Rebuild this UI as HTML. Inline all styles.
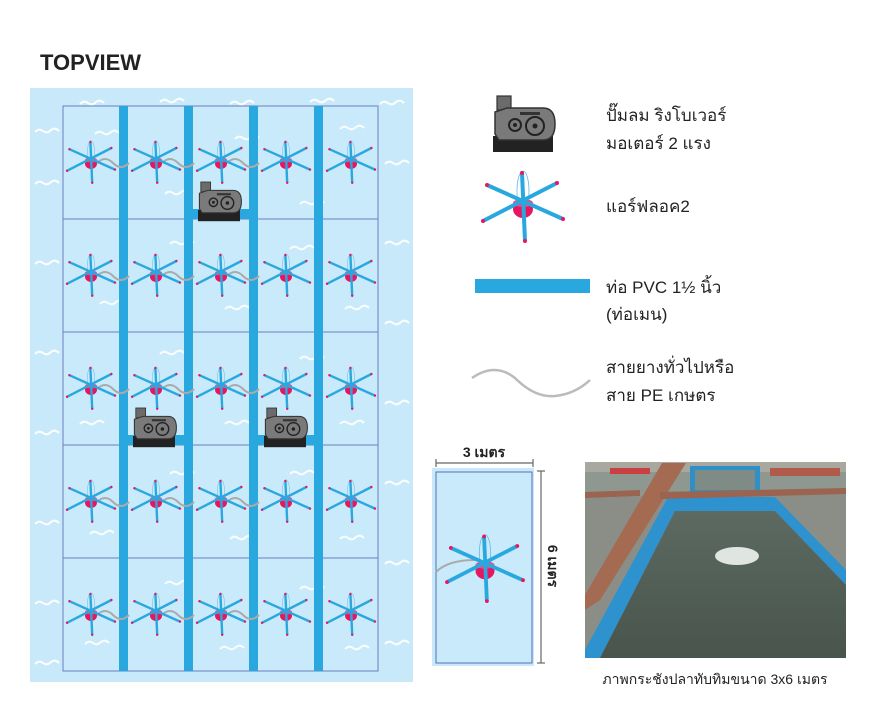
<!DOCTYPE html>
<html><head><meta charset="utf-8"><style>
body{margin:0;background:#fff;}
svg{display:block}
text{font-family:"Liberation Sans","Noto Sans CJK SC","WenQuanYi Zen Hei",sans-serif;}
</style></head><body>
<svg width="892" height="714" viewBox="0 0 892 714" xmlns="http://www.w3.org/2000/svg">
<defs>
<g id="aer">
 <ellipse cx="0" cy="-12" rx="6" ry="20" fill="none" stroke="#5bb8e6" stroke-width="0.8"/>
 <ellipse cx="0" cy="6" rx="10" ry="9" fill="#e8165f"/>
 <ellipse cx="0" cy="0" rx="10" ry="4" fill="#f04a80"/>
 <g stroke="#29a8e0" stroke-width="4" stroke-linecap="butt">
  <line x1="-1" y1="-30" x2="2" y2="38"/>
  <line x1="-36" y1="-18" x2="40" y2="16"/>
  <line x1="34" y1="-20" x2="-40" y2="18"/>
 </g>
 <g fill="#e8165f"><circle cx="-1" cy="-30" r="2"/><circle cx="2" cy="38" r="2"/><circle cx="-36" cy="-18" r="2"/><circle cx="40" cy="16" r="2"/><circle cx="34" cy="-20" r="2"/><circle cx="-40" cy="18" r="2"/></g>
</g>
<g id="mot">
 <rect x="0" y="40" width="60" height="16" fill="#222"/>
 <rect x="4" y="0" width="14" height="14" fill="#6b6b6b" stroke="#333" stroke-width="1.2"/>
 <path d="M2 16 L14 12 L50 12 Q62 12 62 28 Q62 44 50 44 L6 44 L2 38 Z" fill="#7a7a7a" stroke="#333" stroke-width="1.5"/>
 <circle cx="22" cy="29" r="6" fill="none" stroke="#222" stroke-width="2"/><circle cx="22" cy="29" r="2" fill="#222"/>
 <circle cx="42" cy="30" r="9" fill="none" stroke="#222" stroke-width="2"/><circle cx="42" cy="30" r="2.5" fill="#222"/>
 <rect x="27" y="16" width="20" height="3" fill="#333"/>
</g>
<path id="wv" d="M0 4 Q4 0 8 3 Q12 6 16 2 Q20 -1 24 3" fill="none" stroke="#fff" stroke-width="2"/>
<path id="hose" d="M0 0 Q8 -8 16 0 Q24 8 32 0" fill="none" stroke="#aaa" stroke-width="2"/>
</defs>

<text x="40" y="70" font-size="22" font-weight="600" fill="#222">TOPVIEW</text>

<rect x="30" y="88" width="383" height="594" fill="#c7e9f9"/>
<g opacity="0.95">
<use href="#wv" x="80" y="100"/><use href="#wv" x="160" y="98"/><use href="#wv" x="230" y="100"/><use href="#wv" x="310" y="98"/><use href="#wv" x="380" y="100"/>
<use href="#wv" x="35" y="128"/><use href="#wv" x="385" y="160"/><use href="#wv" x="35" y="180"/><use href="#wv" x="385" y="240"/><use href="#wv" x="35" y="260"/><use href="#wv" x="385" y="320"/><use href="#wv" x="35" y="350"/><use href="#wv" x="385" y="400"/><use href="#wv" x="35" y="430"/><use href="#wv" x="385" y="480"/><use href="#wv" x="35" y="520"/><use href="#wv" x="385" y="560"/><use href="#wv" x="35" y="600"/><use href="#wv" x="385" y="640"/><use href="#wv" x="35" y="660"/>
</g>
<g fill="#c9eafa" stroke="#6b7fc0" stroke-width="1">
<rect x="63" y="106" width="315" height="565"/>
</g>
<g stroke="#6b7fc0" stroke-width="1">
<line x1="63" y1="219" x2="378" y2="219"/><line x1="63" y1="332" x2="378" y2="332"/><line x1="63" y1="445" x2="378" y2="445"/><line x1="63" y1="558" x2="378" y2="558"/>
</g>
<g opacity="0.9">
<use href="#wv" x="95" y="130"/><use href="#wv" x="165" y="190"/><use href="#wv" x="235" y="135"/><use href="#wv" x="300" y="200"/><use href="#wv" x="340" y="125"/>
<use href="#wv" x="100" y="300"/><use href="#wv" x="170" y="240"/><use href="#wv" x="225" y="305"/><use href="#wv" x="290" y="245"/><use href="#wv" x="345" y="305"/>
<use href="#wv" x="80" y="420"/><use href="#wv" x="160" y="350"/><use href="#wv" x="225" y="420"/><use href="#wv" x="300" y="355"/><use href="#wv" x="340" y="420"/>
<use href="#wv" x="90" y="530"/><use href="#wv" x="170" y="470"/><use href="#wv" x="230" y="535"/><use href="#wv" x="290" y="470"/><use href="#wv" x="340" y="535"/>
<use href="#wv" x="85" y="640"/><use href="#wv" x="165" y="580"/><use href="#wv" x="220" y="645"/><use href="#wv" x="300" y="585"/><use href="#wv" x="345" y="645"/>
</g>
<g fill="#29a8e0">
<rect x="119" y="106" width="9" height="565"/><rect x="184" y="106" width="9" height="565"/><rect x="249" y="106" width="9" height="565"/><rect x="314" y="106" width="9" height="565"/>
<rect x="193" y="209" width="56" height="10"/><rect x="128" y="435" width="56" height="10"/><rect x="258" y="435" width="56" height="10"/>
</g>
<g id="row">
 <use href="#hose" x="97" y="163"/><use href="#hose" x="162" y="163"/><use href="#hose" x="227" y="163"/>
 <g transform="translate(91,160) scale(0.6)"><use href="#aer"/></g>
 <g transform="translate(156,160) scale(0.6)"><use href="#aer"/></g>
 <g transform="translate(221,160) scale(0.6)"><use href="#aer"/></g>
 <g transform="translate(286,160) scale(0.6)"><use href="#aer"/></g>
 <g transform="translate(351,160) scale(0.6)"><use href="#aer"/></g>
</g>
<use href="#row" y="113"/><use href="#row" y="226"/><use href="#row" y="339"/><use href="#row" y="452"/>
<g transform="translate(198,182) scale(0.7)"><use href="#mot"/></g>
<g transform="translate(133,408) scale(0.7)"><use href="#mot"/></g>
<g transform="translate(264,408) scale(0.7)"><use href="#mot"/></g>

<!-- legend -->
<g transform="translate(493,96)"><use href="#mot"/></g>
<text x="606" y="121" font-size="17" fill="#222">ปั๊มลม ริงโบเวอร์</text>
<text x="606" y="149" font-size="17" fill="#222">มอเตอร์ 2 แรง</text>
<g transform="translate(523,203)"><use href="#aer"/></g>
<text x="606" y="212" font-size="17" fill="#222">แอร์ฟลอค2</text>
<rect x="475" y="279" width="115" height="14" fill="#29a8e0"/>
<text x="606" y="293" font-size="17" fill="#222">ท่อ PVC 1½ นิ้ว</text>
<text x="606" y="320" font-size="17" fill="#222">(ท่อเมน)</text>
<path d="M472 378 Q495 362 515 378 Q535 398 555 396 Q575 394 590 380" fill="none" stroke="#bbb" stroke-width="2.5"/>
<text x="606" y="373" font-size="17" fill="#222">สายยางทั่วไปหรือ</text>
<text x="606" y="401" font-size="17" fill="#222">สาย PE เกษตร</text>

<!-- single cage -->
<text x="484" y="457" font-size="14" font-weight="bold" fill="#222" text-anchor="middle">3 เมตร</text>
<g stroke="#666" stroke-width="1.2"><line x1="436" y1="463" x2="533" y2="463"/><line x1="436" y1="459" x2="436" y2="467"/><line x1="533" y1="459" x2="533" y2="467"/>
<line x1="541" y1="471" x2="541" y2="663"/><line x1="537" y1="471" x2="545" y2="471"/><line x1="537" y1="663" x2="545" y2="663"/></g>
<text transform="translate(548,566) rotate(90)" font-size="14" font-weight="bold" fill="#222" text-anchor="middle">6 เมตร</text>
<rect x="432" y="468" width="102" height="198" fill="#c7e9f9"/>
<rect x="436" y="472" width="96" height="191" fill="#c9eafa" stroke="#5a6db8" stroke-width="1"/>
<path d="M436 572 Q448 560 475 560" fill="none" stroke="#aaa" stroke-width="2"/>
<g transform="translate(485,565) scale(0.95)"><use href="#aer"/></g>

<!-- photo -->
<defs><linearGradient id="wat" x1="0" y1="0" x2="0" y2="1"><stop offset="0" stop-color="#5c6a62"/><stop offset="1" stop-color="#48544c"/></linearGradient></defs>
<rect x="585" y="462" width="261" height="196" fill="#7a847e"/>
<rect x="585" y="462" width="261" height="38" fill="#8f9890"/>
<rect x="585" y="462" width="261" height="10" fill="#a9a8a0"/>
<rect x="590" y="500" width="60" height="15" fill="#b8c0bc"/>
<rect x="690" y="466" width="70" height="26" fill="#2f8fc8"/>
<rect x="695" y="470" width="60" height="20" fill="#7f8c86"/>
<rect x="610" y="468" width="40" height="6" fill="#c84040"/>
<rect x="770" y="468" width="70" height="8" fill="#b05a4a"/>
<rect x="800" y="512" width="46" height="20" fill="#d98a5a"/>
<polygon points="585,498 846,490 846,580 775,500 670,500 585,655" fill="#8a8e86"/>
<polygon points="668,497 775,497 846,570 846,585 775,511 675,511 600,658 585,658 585,650" fill="#2e92cf"/>
<polygon points="675,511 775,511 846,585 846,658 600,658" fill="url(#wat)"/>
<ellipse cx="737" cy="556" rx="22" ry="9" fill="#dfe6e2"/>
<polygon points="585,595 662,463 686,463 600,600 585,610" fill="#a46a52"/>
<polygon points="660,492 846,488 846,494 660,499" fill="#9a6450"/>
<polygon points="585,492 640,490 640,496 585,498" fill="#9a6450"/>
<text x="715" y="684" font-size="14" fill="#222" text-anchor="middle">ภาพกระชังปลาทับทิมขนาด 3x6 เมตร</text>
</svg>
</body></html>
